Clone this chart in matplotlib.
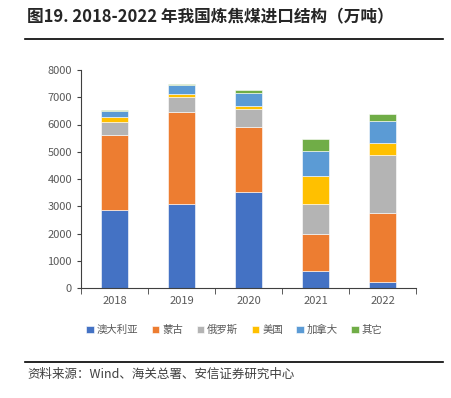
import numpy as np
import matplotlib
matplotlib.use("Agg")
import matplotlib.pyplot as plt

plt.rcParams['font.family'] = ['Noto Sans CJK SC', 'DejaVu Sans']

years = ["2018", "2019", "2020", "2021", "2022"]
series = ["澳大利亚", "蒙古", "俄罗斯", "美国", "加拿大", "其它"]

australia = [2870, 3080, 3540, 610, 210]
mongolia = [2760, 3390, 2370, 1390, 2560]
russia = [450, 530, 670, 1080, 2100]
usa = [200, 130, 100, 1020, 460]
canada = [230, 310, 465, 930, 790]
other = [10, 30, 125, 430, 280]

colors = ["#4472C4", "#ED7D31", "#B4B4B4", "#FFC000", "#5B9BD5", "#70AD47"]

yticks = [0, 1000, 2000, 3000, 4000, 5000, 6000, 7000, 8000]

#-------------------------------------------------------------------------

fig = plt.figure(figsize = (4.51, 3.98), dpi = 100)
ax = fig.add_axes([81/451, 1 - 288/398, 335/451, 218/398])

data = [australia, mongolia, russia, usa, canada, other]
x = np.arange(len(years))
bottom = np.zeros(len(years))

for k in range(len(data)):
    ax.bar(x, data[k], width = 0.4, bottom = bottom, color = colors[k],
           edgecolor = "white", linewidth = 0.4, label = series[k])
    bottom += np.array(data[k])

ax.set_xlim([-0.5, 4.5])
ax.set_ylim([0, 8000])
ax.set_yticks(yticks)
ax.set_yticklabels([str(v) for v in yticks], fontsize = 8, color = "#595959")

ax.set_xticks(x)
ax.set_xticklabels(years, fontsize = 8, color = "#595959")
ax.tick_params(axis = "x", length = 0, pad = 6)
ax.set_xticks(np.arange(-0.5, 5, 1), minor = True)
ax.tick_params(axis = "x", which = "minor", length = 4, direction = "out", color = "#404040")
ax.tick_params(axis = "y", length = 3, direction = "out", color = "#404040")

for s in ["top", "right"]:
    ax.spines[s].set_visible(False)
ax.spines["left"].set_color("#404040")
ax.spines["bottom"].set_color("#404040")

handles, labels = ax.get_legend_handles_labels()
fig.legend(handles, labels, loc = "center", bbox_to_anchor = (0.52, 1 - 330/398),
           ncol = 6, frameon = False, fontsize = 7.5, handlelength = 0.7, handleheight = 0.7,
           handletextpad = 0.3, columnspacing = 1.3, labelcolor = "#595959")

fig.text(27/451, 1 - 17/398, "图19. 2018-2022 年我国炼焦煤进口结构（万吨）",
         fontsize = 12, fontweight = "bold", va = "center", ha = "left", color = "#262626")
fig.add_artist(plt.Line2D([25/451, 443/451], [1 - 39/398, 1 - 39/398], color = "black", linewidth = 1.2))
fig.add_artist(plt.Line2D([25/451, 443/451], [1 - 362/398, 1 - 362/398], color = "black", linewidth = 1.2))
fig.text(27/451, 1 - 374/398, "资料来源：Wind、海关总署、安信证券研究中心",
         fontsize = 9, style = "italic", va = "center", ha = "left", color = "#404040")

plt.savefig("out.png", dpi = 100)
